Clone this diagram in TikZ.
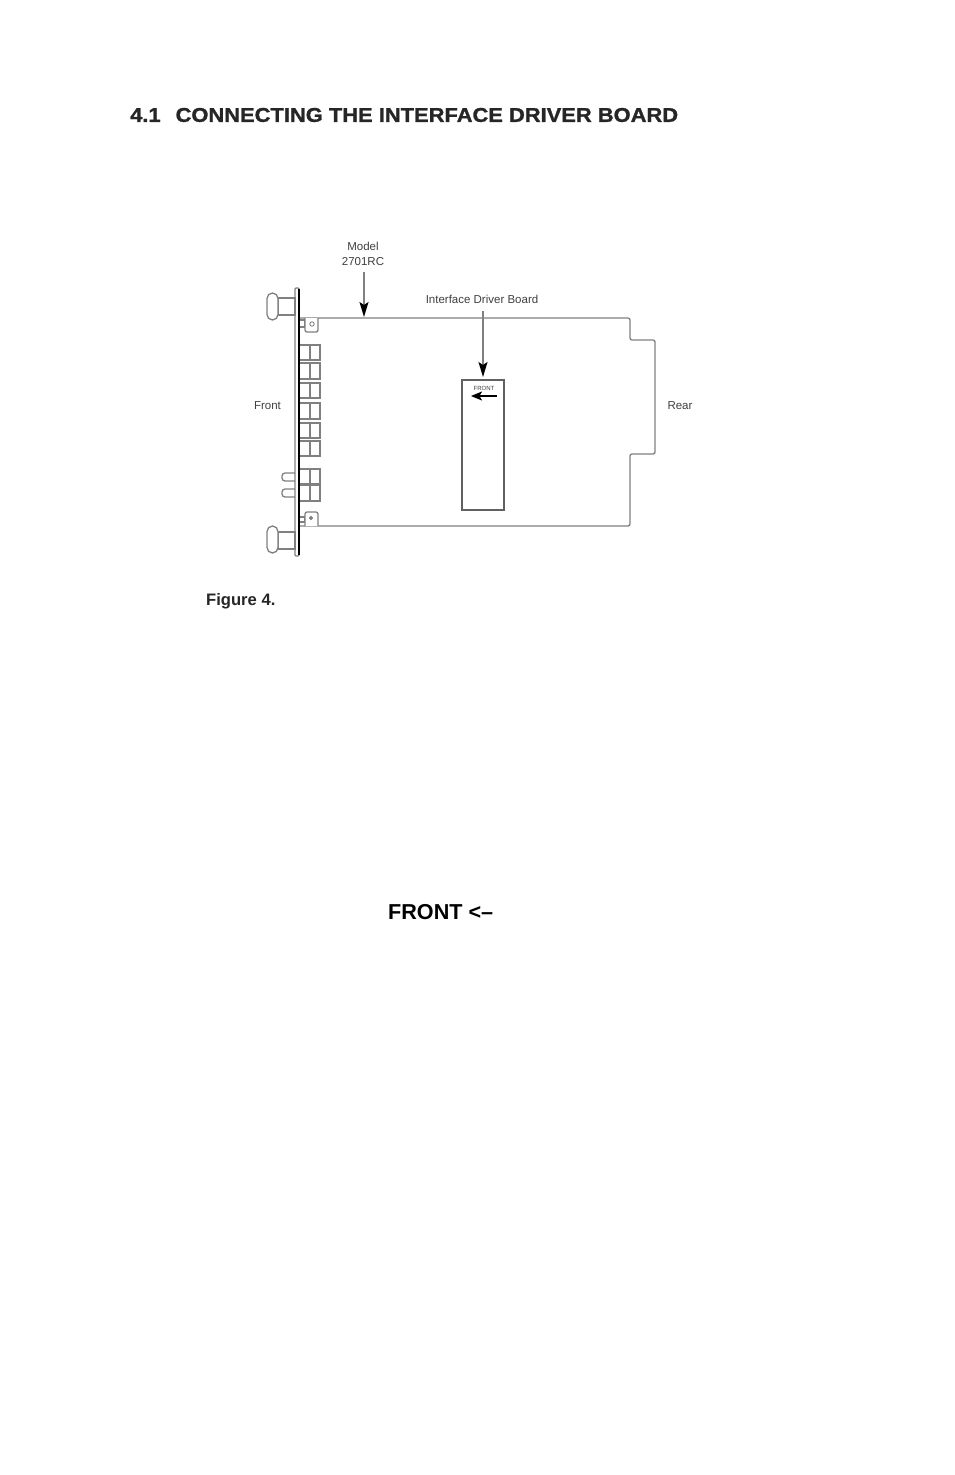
\documentclass[tikz,border=0pt]{standalone}
\usepackage{fontspec}
\setmainfont{Liberation Sans}
\newfontfamily\heavyfont[FakeStretch=1.095,FakeBold=1.2]{Liberation Sans}
\usetikzlibrary{arrows.meta}
\definecolor{ln}{gray}{0.5}
\definecolor{tx}{gray}{0.25}
\tikzset{
  x=1pt,y=-1pt,
  part/.style={draw=ln,line width=1.3pt},
  lab/.style={inner sep=0pt,text=tx,font=\fontsize{11.5}{14}\selectfont,anchor=center},
  callout/.style={draw=ln,line width=1.3pt,-{Stealth[length=15pt,width=9pt,inset=3pt,black]}},
}
\begin{document}
\begin{tikzpicture}
\useasboundingbox (0,0) rectangle (954,1475);
\fill[white] (0,0) rectangle (954,1475);
% heading and captions
\node[inner sep=0pt,anchor=west,font=\heavyfont\bfseries\fontsize{20}{24}\selectfont,text=black!85] (head) at (130,115) {4.1\hspace{15pt}CONNECTING THE INTERFACE DRIVER BOARD};
\node[inner sep=0pt,anchor=base west,font=\bfseries\fontsize{16.6}{18}\selectfont,text=black!85] (fig) at (206,605) {Figure 4.};
\node[inner sep=0pt,anchor=west,font=\bfseries\fontsize{21.6}{26}\selectfont] (front2) at (388,912) {FRONT <–};
% outline of card
\draw[part,rounded corners=2pt] (299,318) -- (630,318) -- (630,340) -- (655,340) -- (655,454) -- (630,454) -- (630,526) -- (299,526);
% panel
\draw[part,fill=white,rounded corners=1pt] (295,288) rectangle (299,556);
% knobs
\draw[part,fill=white] (278,298) rectangle (295,315);
\draw[part,fill=white,rounded corners=5.5pt] (267,293) rectangle (278,320);
\draw[part,fill=white] (278,532) rectangle (295,549);
\draw[part,fill=white,rounded corners=5.5pt] (267,526) rectangle (278,553);
% brackets
\draw[part,fill=white] (299,320) rectangle (305,327);
\draw[part,fill=white,rounded corners=2pt] (305,318) -- (305,332) -- (318,332) -- (318,318);
\draw[ln,line width=.9pt] (312,324) circle (2.2);
\draw[part,fill=white] (299,517) rectangle (305,522);
\draw[part,fill=white,rounded corners=2pt] (305,526) -- (305,512) -- (318,512) -- (318,526);
\draw[ln,fill=ln,line width=.6pt] (311,518) circle (1.8);
% connector blocks
\foreach \a/\b in {345/360,363/379,383/398,403/419,423/438,441/456,469/484,485/501}{
  \draw[part] (299,\a) rectangle (320,\b);
  \draw[part] (310,\a) -- (310,\b);
}
% dark edge of panel, over everything that meets it
\draw[black,line width=1.6pt] (299,289) -- (299,555);
% small pills
\draw[part,rounded corners=3pt] (295,473) -- (282,473) -- (282,481) -- (295,481);
\draw[part,rounded corners=3pt] (295,489) -- (282,489) -- (282,497) -- (295,497);
% driver board
\node[draw=black!62,line width=1.2pt,minimum width=42pt,minimum height=130pt,inner sep=0pt] (board) at (483,445) {};
\node[inner sep=0pt,text=tx,font=\fontsize{6}{7}\selectfont] (fronttag) at (484,388) {FRONT};
\coordinate (arrS) at (497,396);
\coordinate (arrE) at (471,396);
\draw[black,line width=1.5pt,-{Stealth[length=11pt,width=9pt,inset=2.5pt]}] (arrS) -- (arrE);
% labels and callouts
\node[lab] (m1) at (363,246) {Model};
\node[lab] (m2) at (363,262) {2701RC};
\node[lab] (idb) at (482,299) {Interface Driver Board};
\node[lab] (fl) at (267.5,405.5) {Front};
\node[lab] (rl) at (680,405.5) {Rear};
\coordinate (ms) at (364,272);
\coordinate (mt) at (364,317);
\coordinate (is) at (483,311);
\coordinate (it) at (483,377);
\draw[callout] (ms) -- (mt);
\draw[callout] (is) -- (it);
\end{tikzpicture}
\end{document}
